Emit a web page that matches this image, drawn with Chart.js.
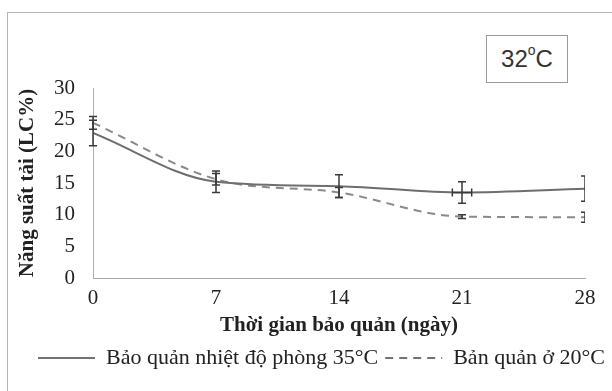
<!DOCTYPE html>
<html>
<head>
<meta charset="utf-8">
<script src="https://cdn.jsdelivr.net/npm/chart.js@4/dist/chart.umd.min.js"></script>
<style>
  html, body { margin: 0; padding: 0; background: #fff; }
  #wrap { position: relative; width: 612px; height: 391px; overflow: hidden; }
  #frame { position: absolute; left: 7px; top: 12px; width: 640px; height: 420px; border: 1px solid #b5b5b5; }
  #chart { position: absolute; left: 0; top: 0; }
  #tag {
    position: absolute; left: 486px; top: 35px; width: 80px; height: 46px;
    border: 1px solid #9a9a9a; background: #fff;
    font-family: "Liberation Sans", Arial, sans-serif; font-size: 24px; color: #333;
    display: flex; align-items: center; justify-content: center;
  }
  #tag sup { font-size: 14px; line-height: 0; position: relative; top: -3px; }
</style>
</head>
<body>
<div id="wrap">
  <div id="frame"></div>
  <canvas id="chart" width="612" height="391"></canvas>
  <div id="tag"><span>32<sup>o</sup>C</span></div>
</div>
<script>
// Dữ liệu
const days = [0, 7, 14, 21, 28];
const room35 = [22.9, 15.2, 14.5, 13.5, 14.1];
const room35Err = [2.0, 1.7, 1.8, 1.7, 2.0];
const room35ErrX = [0, 0, 0, 0.55, 0];
const cool20 = [24.5, 15.6, 13.5, 9.7, 9.6];
const cool20Err = [1.0, 0.9, 0.8, 0.3, 0.8];
const yTicks = [0, 5, 10, 15, 20, 25, 30];

const labelRoom = 'Bảo quản nhiệt độ phòng 35°C';
const labelCool = 'Bản quản ở 20°C';
const xTitle = 'Thời gian bảo quản (ngày)';
const yTitle = 'Năng suất tải (LC%)';

const serif = '"Liberation Serif", "Times New Roman", serif';

const toPoints = (xs, ys) => xs.map((x, i) => ({ x: x, y: ys[i] }));

// Vẽ thanh sai số theo thang đo của biểu đồ
const errorBars = {
    id: 'errorBars',
    afterDatasetsDraw(chart) {
        const { ctx, chartArea, scales: { x, y } } = chart;
        const sets = [
            { ys: room35, err: room35Err, errX: room35ErrX },
            { ys: cool20, err: cool20Err, errX: null }
        ];
        ctx.save();
        ctx.beginPath();
        ctx.rect(chartArea.left - 10, chartArea.top - 10, chartArea.right - chartArea.left + 10, chartArea.bottom - chartArea.top + 20);
        ctx.clip();
        ctx.strokeStyle = '#3a3a3a';
        ctx.lineWidth = 1.5;
        const cap = 4;
        sets.forEach(s => {
            days.forEach((d, i) => {
                const px = x.getPixelForValue(d);
                const top = y.getPixelForValue(s.ys[i] + s.err[i]);
                const bot = y.getPixelForValue(s.ys[i] - s.err[i]);
                ctx.beginPath();
                ctx.moveTo(px, top); ctx.lineTo(px, bot);
                ctx.moveTo(px - cap, top); ctx.lineTo(px + cap, top);
                ctx.moveTo(px - cap, bot); ctx.lineTo(px + cap, bot);
                if (s.errX && s.errX[i]) {
                    const py = y.getPixelForValue(s.ys[i]);
                    const l = x.getPixelForValue(d - s.errX[i]);
                    const r = x.getPixelForValue(d + s.errX[i]);
                    ctx.moveTo(l, py); ctx.lineTo(r, py);
                    ctx.moveTo(l, py - cap); ctx.lineTo(l, py + cap);
                    ctx.moveTo(r, py - cap); ctx.lineTo(r, py + cap);
                }
                ctx.stroke();
            });
        });
        ctx.restore();
    }
};

new Chart(document.getElementById('chart'), {
    type: 'line',
    data: {
        datasets: [
            {
                label: labelRoom,
                data: toPoints(days, room35),
                borderColor: '#6e6e6e',
                borderWidth: 2,
                pointRadius: 0,
                cubicInterpolationMode: 'monotone',
                fill: false
            },
            {
                label: labelCool,
                data: toPoints(days, cool20),
                borderColor: '#8a8a8a',
                borderWidth: 2,
                borderDash: [8, 6],
                pointRadius: 0,
                cubicInterpolationMode: 'monotone',
                fill: false
            }
        ]
    },
    options: {
        responsive: false,
        animation: false,
        layout: { padding: { left: 0, right: 0, top: 88, bottom: 12 } },
        plugins: {
            tooltip: { enabled: false },
            legend: {
                position: 'bottom',
                align: 'end',
                labels: {
                    usePointStyle: true,
                    pointStyle: 'line',
                    pointStyleWidth: 57,
                    padding: 7,
                    color: '#222',
                    font: { family: serif, size: 22 },
                    generateLabels(chart) {
                        return chart.data.datasets.map((ds, i) => ({
                            text: ds.label,
                            strokeStyle: '#444',
                            fillStyle: '#444',
                            lineWidth: 1.5,
                            lineDash: ds.borderDash || [],
                            pointStyle: 'line',
                            fontColor: '#222',
                            datasetIndex: i
                        }));
                    }
                }
            }
        },
        scales: {
            x: {
                type: 'linear',
                min: 0,
                max: 28,
                afterBuildTicks(scale) { scale.ticks = days.map(v => ({ value: v })); },
                afterFit(scale) { scale.height = 62; scale.paddingRight = 27; },
                grid: { display: false, drawTicks: false },
                border: { display: true, color: '#a8a8a8', width: 1 },
                ticks: { padding: 8, color: '#222', font: { family: serif, size: 21 } },
                title: {
                    display: true,
                    text: xTitle,
                    color: '#222',
                    padding: { top: 0, bottom: 2 },
                    font: { family: serif, size: 21, weight: 'bold' }
                }
            },
            y: {
                min: 0,
                max: 30,
                afterBuildTicks(scale) { scale.ticks = yTicks.map(v => ({ value: v })); },
                afterFit(scale) { scale.width = 93; },
                grid: { display: false, drawTicks: false },
                border: { display: true, color: '#b0b0b0', width: 1, dash: [2, 2] },
                ticks: { padding: 18, color: '#222', font: { family: serif, size: 21 } },
                title: {
                    display: true,
                    text: yTitle,
                    color: '#222',
                    padding: { top: 15, bottom: 0 },
                    font: { family: serif, size: 21, weight: 'bold' }
                }
            }
        }
    },
    plugins: [errorBars]
});
</script>
</body>
</html>
